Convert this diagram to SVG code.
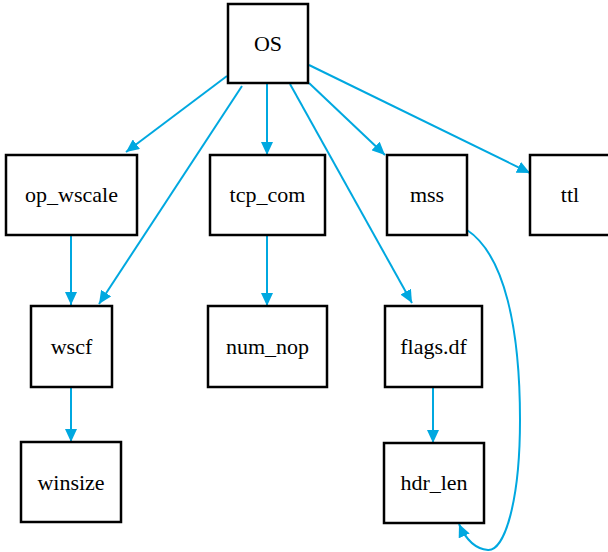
<svg xmlns="http://www.w3.org/2000/svg" width="608" height="552" viewBox="0 0 608 552">
<style>
.n rect{fill:#fff;stroke:#000;stroke-width:2.5}
.n text{font-family:"Liberation Serif","Times New Roman","DejaVu Serif",Tinos,serif;font-size:22px;fill:#000;text-anchor:middle}
.e path{fill:none;stroke:#00a8e0;stroke-width:2}
</style>
<defs>
<marker id="a" markerUnits="userSpaceOnUse" markerWidth="14" markerHeight="12" refX="13" refY="6" orient="auto">
<path d="M0,0 L13,6 L0,12 Z" fill="#00a8e0"/>
</marker>
</defs>
<rect width="608" height="552" fill="#fff"/>
<g class="e">
<path d="M227,76 L126,152" marker-end="url(#a)"/>
<path d="M242,86 L99,304" marker-end="url(#a)"/>
<path d="M267,84 L267,155" marker-end="url(#a)"/>
<path d="M309,83 L385,155" marker-end="url(#a)"/>
<path d="M309,65 L530,173" marker-end="url(#a)"/>
<path d="M290,84 L412,303" marker-end="url(#a)"/>
<path d="M71,235 L71,305" marker-end="url(#a)"/>
<path d="M267,235 L267,306" marker-end="url(#a)"/>
<path d="M433,387 L433,443" marker-end="url(#a)"/>
<path d="M71,387 L71,442" marker-end="url(#a)"/>
<path d="M467,230 C505,255 520,330 520,420 C520,500 505,551 488,550 C476,549 466,540 459,524" marker-end="url(#a)"/>
</g>
<g id="OS" class="n"><rect x="228" y="4" width="80" height="79"/><text x="268" y="51" font-family="Liberation Serif">OS</text></g>
<g id="op_wscale" class="n"><rect x="6" y="155" width="131" height="80"/><text x="71.5" y="202" font-family="Liberation Serif">op_wscale</text></g>
<g id="tcp_com" class="n"><rect x="210" y="155" width="115" height="80"/><text x="267.5" y="202" font-family="Liberation Serif">tcp_com</text></g>
<g id="mss" class="n"><rect x="387" y="155" width="80" height="80"/><text x="427" y="202" font-family="Liberation Serif">mss</text></g>
<g id="ttl" class="n"><rect x="530" y="155" width="80" height="80"/><text x="570" y="202" font-family="Liberation Serif">ttl</text></g>
<g id="wscf" class="n"><rect x="31" y="306" width="81" height="81"/><text x="71.5" y="354" font-family="Liberation Serif">wscf</text></g>
<g id="num_nop" class="n"><rect x="208" y="306" width="119" height="81"/><text x="267.5" y="354" font-family="Liberation Serif">num_nop</text></g>
<g id="flags_df" class="n"><rect x="385" y="306" width="97" height="81"/><text x="433.5" y="354" font-family="Liberation Serif">flags.df</text></g>
<g id="winsize" class="n"><rect x="21" y="442" width="100" height="80"/><text x="71" y="490" font-family="Liberation Serif">winsize</text></g>
<g id="hdr_len" class="n"><rect x="384" y="443" width="100" height="80"/><text x="434" y="490" font-family="Liberation Serif">hdr_len</text></g>
</svg>
